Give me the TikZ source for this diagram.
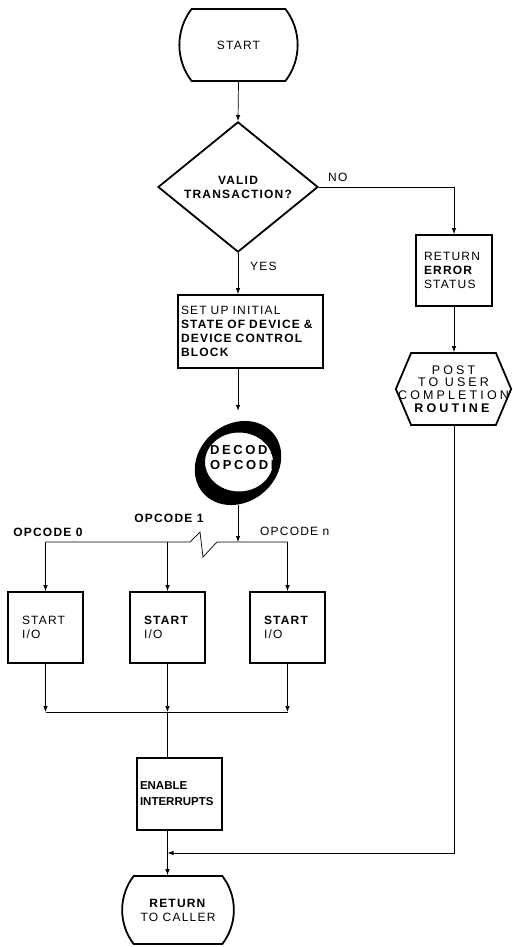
\documentclass[tikz,border=0pt]{standalone}
\usepackage{fontspec}
\setmainfont{Liberation Sans}[LetterSpace=10]
\usepackage{tikz}
\usetikzlibrary{arrows.meta,shapes.geometric,shapes.misc,shapes.symbols}
\newcommand{\chartfont}{\fontsize{12}{14}\selectfont}
\tikzset{
  % text of the whole chart
  every node/.append style={font=\chartfont},
  % start / return terminal
  term/.style={
    draw,
    line width=1.8pt,
    rounded rectangle,
    rounded rectangle arc length=75,
    inner sep=0pt,
    align=center
  },
  % decision
  decision/.style={
    draw,
    line width=1.8pt,
    diamond,
    inner sep=0pt,
    align=center,
    minimum width=160,
    minimum height=117,
    font=\chartfont\bfseries
  },
  % process box
  procbox/.style={
    draw,
    line width=1.8pt,
    rectangle,
    inner ysep=0pt,
    align=left
  },
  % user exit
  exitbox/.style={
    draw,
    line width=1.8pt,
    signal,
    signal to=west and east,
    signal pointer angle=134,
    inner xsep=-13pt,
    inner ysep=0pt,
    align=center,
    font=\fontsize{12.5}{12.7}\selectfont\addfontfeatures{LetterSpace=25}
  },
  % connectors
  line/.style={line width=0.7pt},
  arr/.style={line, -{Latex[length=6pt,width=4.5pt]}},
  lab/.style={inner sep=0pt},
}

\begin{document}
\begin{tikzpicture}[x=1pt,y=-1pt]
  \useasboundingbox (0,0) rectangle (513,947);

  % start and check
  \node[term, minimum width=111, minimum height=72] (start) at (238.5,45) {START};
  \node[decision] (valid) at (238,187) {VALID\\TRANSACTION?};
  \node[lab, anchor=west] (no) at (328,177) {NO};
  \node[lab, anchor=west] (yes) at (250,266) {YES};
  \draw[arr] (start.south) -- (valid.north);

  % error branch
  \node[procbox, text width=60, inner xsep=8, minimum height=71] (err) at (454,270.5)
    {RETURN\\\textbf{ERROR}\\STATUS};
  \node[exitbox, minimum height=72] (post) at (453.5,389)
    {POST\\TO USER\\COMPLETION\\\textbf{ROUTINE}};
  \draw[arr] (valid.east) -| (err.north);
  \draw[arr] (err.south) -- (err.south |- post.north);

  % set up
  \node[procbox, text width=139, inner xsep=3, minimum height=73] (setup) at (250.5,331.5)
    {SET UP INITIAL\\\textbf{STATE OF DEVICE \&}\\\textbf{DEVICE CONTROL}\\\textbf{BLOCK}};
  \draw[arr] (valid.south) -- (setup.north -| valid.south);

  % decode
  \node[ellipse, minimum width=86, minimum height=84, inner sep=0pt] (decode) at (238,463) {};
  \begin{scope}
    \clip (239,462) circle[x radius=34, y radius=29.5];
    \node[anchor=west, align=left, inner sep=0pt,
      font=\fontsize{13}{15}\selectfont\bfseries\addfontfeatures{LetterSpace=20}] (decodetxt) at (210,457.5)
      {DECODE\\OPCODE};
  \end{scope}
  \fill[even odd rule] (238,463) circle[x radius=46, y radius=39, rotate=40]
    (239,462) circle[x radius=34, y radius=29.5];
  \draw[arr, shorten >=10pt] (setup.south -| valid.south) -- (decode.north);

  % opcode fan-out
  \coordinate (inbus) at (0,542);
  \coordinate (outbus) at (0,712);
  \coordinate (zig1) at (190,542);
  \coordinate (zig2) at (200,532);
  \coordinate (zig3) at (203,557);
  \coordinate (zig4) at (217,542);
  \node[lab, font=\chartfont\bfseries] (op0) at (48,532) {OPCODE 0};
  \node[lab, font=\chartfont\bfseries] (op1) at (169,518) {OPCODE 1};
  \node[lab, anchor=west] (opn) at (260,531) {OPCODE n};

  \node[procbox, text width=47, inner xsep=14, minimum height=71] (io1) at (45.5,627.5) {START\\I/O};
  \node[procbox, text width=47, inner xsep=14, minimum height=71] (io2) at (167.5,627.5) {\textbf{START}\\I/O};
  \node[procbox, text width=47, inner xsep=14, minimum height=71] (io3) at (287.5,627.5) {\textbf{START}\\I/O};

  \draw[arr] (decode.south) -- (decode.south |- inbus);
  \draw[line] (io1.north |- inbus) -- (zig1) -- (zig2) -- (zig3) -- (zig4) -- (io3.north |- inbus);
  \draw[arr] (io1.north |- inbus) -- (io1.north);
  \draw[arr] (io2.north |- inbus) -- (io2.north);
  \draw[arr] (io3.north |- inbus) -- (io3.north);
  \draw[arr] (io1.south) -- (io1.south |- outbus);
  \draw[arr] (io2.south) -- (io2.south |- outbus);
  \draw[arr] (io3.south) -- (io3.south |- outbus);
  \draw[line] (io1.south |- outbus) -- (io3.south |- outbus);

  % enable and return
  \node[procbox, text width=79, inner xsep=3, minimum height=72,
    font=\fontsize{11.5}{16}\selectfont\bfseries\addfontfeatures{LetterSpace=0}] (enable) at (179.5,794) {ENABLE\\INTERRUPTS};
  \node[term, minimum width=80, minimum height=68] (ret) at (178,910) {\textbf{RETURN}\\TO CALLER};
  \coordinate (join) at (167.5,853);
  \draw[line] (io2.south |- outbus) -- (io2.south |- enable.north);
  \draw[arr] (io2.south |- enable.south) -- (io2.south |- ret.north);
  \draw[arr] (err.south |- post.south) |- (join);
\end{tikzpicture}
\end{document}
